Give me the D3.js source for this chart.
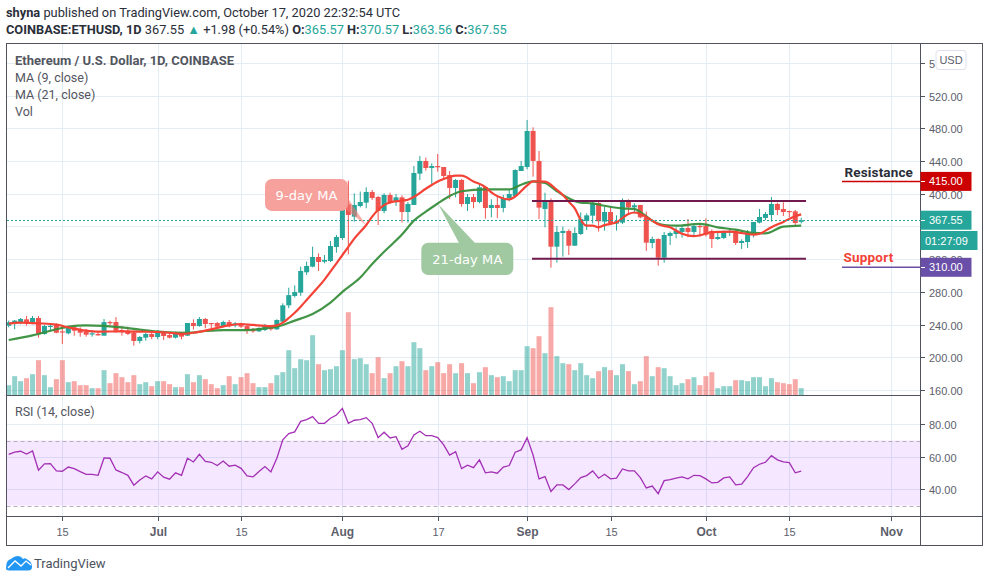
<!DOCTYPE html>
<html><head><meta charset="utf-8">
<script src="https://cdn.jsdelivr.net/npm/d3@7/dist/d3.min.js"></script>
<style>html,body{margin:0;padding:0;background:#fff}svg{display:block}text{font-family:Roboto,sans-serif}</style>
</head><body><svg id="c" width="989" height="582"></svg>
<script>
const opens=[238.6,240.7,242.7,246.4,243.1,248,228.5,237.8,239.5,231.7,229.3,236.6,234.6,231.7,228.5,228.5,226.4,243.1,243.1,233.3,232.5,230,219.9,224,228.5,224.8,230.9,227.2,224,229.3,226.4,241.9,238.2,246.8,241.9,241.9,238.2,243.1,239,240.7,238.2,234,231.7,233.3,238.6,234.2,243.5,263.5,274.9,279,303.9,310.8,322.6,316.9,317.7,334.8,345.8,387,371.9,384.9,389,402.1,395.9,378.8,398.4,389.8,395.5,377.6,386.2,424.5,440,431.4,433.8,432.6,422.8,407,416.7,387.4,395.9,389.8,408.2,382.5,386.2,382.5,394.7,397.2,427.7,432.6,476.6,440,381.3,390.2,335.2,351.9,354.4,336.4,350.7,366.6,373.1,388.6,365.8,377.6,363.3,364.6,389.8,383.3,386.2,371.1,339.7,344.6,321.8,348.3,350.7,353.2,358,353.2,360.5,360.5,354.4,344.6,345.8,352.3,354.4,339.7,340.9,351.9,364.6,370.3,373.9,387.4,381.3,378.8,378.4,365.57];
const highs=[244.8,245.6,248,250.5,250.5,250.5,239.5,239.5,241.5,236.6,236.6,239.5,236.6,234.6,231.7,231.7,246.8,244.8,249.2,238.2,237.4,232.5,226,230,230,233.3,232.5,229.3,231.3,230,241.9,246.4,249.2,248,242,243.1,244.8,245.6,243,242.3,240.3,235.8,236.6,240.7,239.5,246.4,266,285,288,310.8,317,335.2,327.1,325,342.2,349.5,394.3,415.9,400.4,402.5,407.8,404.5,397.2,400.4,401.2,399.6,398,389.8,433.8,446.1,444,437.1,448.5,432.6,427.7,418,418,399.6,399.6,411.8,409.4,393.1,398.4,398.4,404.5,429.8,440,490,481.1,452.2,401.2,394.3,360.5,359.7,356.4,358.9,377.2,376,390.2,391.5,384.1,384.1,373.5,394.3,393.1,388.2,386.2,378,347.5,345.4,353.2,353.6,358.9,361.7,369,361.7,362.5,369.9,356.4,352.7,354.8,357.6,355.6,344.2,355.6,365.4,381.3,377.6,395.9,389,389.4,379.2,380,370.57];
const lows=[236.6,234.2,240.3,238.7,240.3,224,227.6,231.7,229.3,216.2,228,226.4,225.2,225.2,225.2,226.4,226.4,239,230,226.4,227.2,214.2,217,220.3,222,222,221,223,223,222,226,234,237.4,235.4,234,235,236.6,236.6,236.6,235.8,228.5,230,231,232,232.5,233.3,242.3,260,273,275,300.6,310,305.5,314.9,316.5,327.9,343.4,325.9,365.8,383.3,382.1,392.3,361.7,376,387.4,385,364.6,364.6,386.2,416.7,428.1,411.8,426.9,418.8,393.5,395.5,384.1,378.8,382.1,388.2,369.5,371.1,370.3,377.2,390.6,397.2,427.7,429.8,420.8,369,358.9,309.6,315.7,323,325,336,349.5,355.6,363.7,353.6,354.8,362.5,354.8,362.9,375.2,376,369.9,330,333.2,312,315.7,337.3,345.4,346.2,346.6,349.5,347.5,347.5,333.6,343.4,344.6,348.3,337.3,332.4,333.6,346.6,363.7,367.8,365.8,373.9,372.7,371.1,360.9,363.56];
const closes=[242.7,244.8,246.8,242.3,248,228.5,238.2,238.5,230,231,235.8,232.5,230,227.6,229.3,226.8,243,241.9,232.5,231.7,228.5,219.9,224.8,228.5,224.8,231.7,226,224,230,225.2,241.9,238.2,246.8,240.7,241,237.4,243.1,238.6,241.5,237.4,232.9,231.7,235.8,239.5,234.2,245.6,263.5,276,279.8,305.5,311.6,322.6,316.5,318.9,336,347,387,374,386.2,389.8,402.1,394.7,378.8,398.4,389.8,395.5,377.6,387.4,425.3,440,431.4,433.8,432.2,421.6,407,416.7,387.4,395.9,389.8,407.8,382.5,386.2,382.5,394.7,399.6,428.9,433.8,476.6,440,382.9,390.2,335.2,353.2,354.4,336.4,351.9,369,373.5,388.6,366.2,377.6,363.7,366.2,389.8,383.3,385.8,371.1,340.1,344.6,321.8,349.5,351.9,354.8,358,353.2,360.5,359.3,349.9,344.6,347,353.2,354.4,339.7,342.2,352.3,365.4,371.5,375.2,387.4,380,377.6,378,364.2,367.55];
const volumes=[310,580,430,520,640,1060,610,250,490,1060,400,430,310,310,220,220,760,370,670,550,400,610,340,400,280,430,430,340,250,250,640,400,610,490,340,220,310,580,340,550,670,370,250,250,370,610,700,1360,820,1090,1060,1810,940,760,790,880,1360,2500,1090,1120,940,670,1150,520,670,880,1030,880,1600,1420,760,880,1000,670,940,670,970,670,370,700,850,610,550,580,430,760,760,1480,1420,1780,1270,2650,1180,970,940,760,970,610,520,730,850,760,610,940,730,340,430,1180,580,850,820,580,310,370,490,550,310,580,700,220,280,280,460,460,430,550,550,280,520,400,370,340,490,220];
const rsiValues=[61.5,62.8,63.4,61.7,63.6,51.7,55.6,55.8,51.3,51.1,53.7,52.7,50.9,49.2,49.2,48.6,59.3,59.1,51.9,50.3,48.6,42.5,45.7,48.2,46.4,50.7,47.4,46.2,50.1,48.6,59.1,56.8,61.5,57.2,56.6,54.6,57.4,54.2,54.8,52.9,48.2,47.6,50.9,54,50.7,59.1,70.4,74.3,75.3,81.8,82.9,84.7,80.6,80.6,83.7,85.7,89.8,80.6,82.5,82.9,84.1,80.6,71.8,75.1,71.6,72.4,64.6,66.7,73.4,75.7,73,73,71.8,67.3,61.1,63.2,52.7,54.8,53.3,58.1,50.1,50.7,49.9,53.7,54.6,62.8,64.2,71.8,61.1,46.4,47.8,38.6,42.7,42.7,39.8,43.3,47.2,48.4,51.3,46.8,49.2,46.4,46.8,52.5,51.3,51.3,47.2,40.8,42,37.3,45.3,45.9,46.8,47.6,46.4,48.6,48.4,46.4,43.9,44.3,47,47.6,42.7,43.1,47.8,53.3,55.4,56.6,60.7,58.1,56.8,56.4,50.1,51.1];
const ma9Days=[0,2,5,8,10,13,15,19,22,25,28,29,31,34,37,39,41,44,45,46,47,48,49,50,51,53,55,57,58,60,61,63,64,66,67,68,70,72,73,75,76,78,80,81,82,84,85,87,88,90,92,93,94,95,96,97,98,99,100,102,104,105,106,108,109,111,113,115,117,118,121,122,125,126,128,130,132,133];
const ma9Values=[241.1,242.3,241.5,239.9,236.6,232.5,231.3,231.7,231.3,230.9,229.3,228.5,230,234.2,239,240.7,239.5,238.2,239,242.3,248,254.5,261.9,270,278.2,295,314.9,335,345,361.7,372,386,389.4,391.5,392.6,396,406,415,418,422,422,415,408,401.5,397,393,396.5,410,415,414.7,404.5,398.4,390,382,367.8,360.9,360.9,358.9,361.5,365,375.2,377,375.2,367,362.5,358.9,351,348,351,353,353.6,353,350,351,359,365.5,372.5,374.7];
const ma21Days=[0,4,8,10,13,19,22,26,30,33,36,40,43,45,48,51,54,56,59,61,63,66,68,70,72,74,76,80,84,86,87,88,90,92,93,95,96,98,100,103,105,106,108,110,112,116,119,122,125,127,130,133];
const ma21Values=[221.1,226.8,234.2,237.4,239,236.6,233.8,230.9,230,232.1,233.3,233.3,235.4,237.4,244.8,252.9,266.8,280,297.5,314,329,350,367,378,388,397.2,403,405.3,405.3,411,413.5,415.1,413,403,398.4,391,389,388.2,385.2,382,381.3,377.5,367,361.7,360.9,363,358.9,356,352,351.5,359.7,360.9];
const priceTicks=[560,520,480,440,400,360,320,280,240,200,160];
const priceTickLabels=["5","520.00","480.00","440.00","400.00","","320.00","280.00","240.00","200.00","160.00"];
const rsiTicks=[80,60,40];
const rsiTickLabels=["80.00","60.00","40.00"];
const timeTicks=[["2020-06-15","15",0],["2020-07-01","Jul",1],["2020-07-15","15",0],["2020-08-01","Aug",1],["2020-08-17","17",0],["2020-09-01","Sep",1],["2020-09-15","15",0],["2020-10-01","Oct",1],["2020-10-15","15",0],["2020-11-01","Nov",1]];
const channelLevels=[391,320.5];
const resistance=415, support=310, lastPrice=367.55;

const svg=d3.select("#c");
const L=6.5,R=982.5,T=43.5,AX=920.5,P1=395.5,P2=516.5,B=545.5;
const firstDay=new Date(Date.UTC(2020,5,6));
const x=d3.scaleUtc().domain([firstDay,new Date(Date.UTC(2020,10,1))]).range([8.7,890.6]);
const xi=i=>x(d3.utcDay.offset(firstDay,i));
const y=d3.scaleLinear().domain([160,520]).range([390,95.5]);
const yv=d3.scaleLinear().domain([0,2650]).range([P1,P1-88.3]);
const yr=d3.scaleLinear().domain([30,80]).range([505.5,424.3]);
const GRID="#e3edf3",UP="#26a69a",DN="#ef5350",TXT="#5d606b";

const g=svg.append("g").attr("shape-rendering","crispEdges").attr("stroke",GRID).attr("stroke-width",1);
timeTicks.forEach(t=>{const px=Math.round(x(new Date(t[0]+"T00:00Z")))+.5;g.append("line").attr("x1",px).attr("x2",px).attr("y1",T).attr("y2",P2);});
priceTicks.forEach(p=>g.append("line").attr("x1",L).attr("x2",AX).attr("y1",Math.round(y(p))+.5).attr("y2",Math.round(y(p))+.5));
rsiTicks.forEach(p=>g.append("line").attr("x1",L).attr("x2",AX).attr("y1",Math.round(yr(p))+.5).attr("y2",Math.round(yr(p))+.5));

svg.append("g").selectAll("rect").data(volumes).join("rect")
 .attr("x",(d,i)=>xi(i)-2.5).attr("width",5).attr("y",d=>yv(d)).attr("height",d=>P1-yv(d))
 .attr("fill",(d,i)=>closes[i]>=opens[i]?UP:DN).attr("opacity",.5);

const lineOf=(days,vals)=>d3.line().x((d,i)=>xi(days[i])).y(d=>y(d)).curve(d3.curveMonotoneX)(vals);
const cg=svg.append("g");
opens.forEach((o,i)=>{const c=closes[i],col=c>=o?UP:DN,px=xi(i);
 cg.append("line").attr("x1",px).attr("x2",px).attr("y1",y(highs[i])).attr("y2",y(lows[i])).attr("stroke",col).attr("stroke-width",1);
 const a=y(Math.max(o,c)),h=Math.max(1.2,Math.abs(y(o)-y(c)));
 cg.append("rect").attr("x",px-2.5).attr("width",5).attr("y",a).attr("height",h).attr("fill",col);
});
svg.append("path").attr("d",lineOf(ma21Days,ma21Values)).attr("fill","none").attr("stroke","#388e3c").attr("stroke-width",2.2).attr("opacity",.95);
svg.append("path").attr("d",lineOf(ma9Days,ma9Values)).attr("fill","none").attr("stroke","#f44336").attr("stroke-width",2.2);

channelLevels.forEach(p=>svg.append("line").attr("x1",532).attr("x2",806).attr("y1",y(p)).attr("y2",y(p)).attr("stroke","#701a4e").attr("stroke-width",2));

svg.append("line").attr("x1",L).attr("x2",AX).attr("y1",Math.round(y(lastPrice))+.5).attr("y2",Math.round(y(lastPrice))+.5).attr("stroke",UP).attr("stroke-width",1).attr("stroke-dasharray","2 2").attr("shape-rendering","crispEdges");

svg.append("line").attr("x1",842).attr("x2",AX).attr("y1",y(resistance)).attr("y2",y(resistance)).attr("stroke","#cc0000").attr("stroke-width",1.5);
svg.append("line").attr("x1",842).attr("x2",AX).attr("y1",y(support)).attr("y2",y(support)).attr("stroke","#6a4fa8").attr("stroke-width",1.5);
svg.append("text").attr("x",844.5).attr("y",176.5).text("Resistance").attr("fill","#2a2e39").attr("font-size",13.5).attr("font-weight",700).attr("letter-spacing",.15);
svg.append("text").attr("x",843.5).attr("y",261.5).text("Support").attr("fill","#f44336").attr("font-size",13.5).attr("font-weight",700).attr("letter-spacing",.2);

svg.append("path").attr("d","M340,205 L347,197 L366,225 Z").attr("fill","#f4776f").attr("opacity",.6);
svg.append("rect").attr("x",265).attr("y",179).attr("width",83).attr("height",32).attr("rx",7).attr("fill","#f6a19c");
svg.append("text").attr("x",306.5).attr("y",199.5).attr("text-anchor","middle").text("9-day MA").attr("fill","#fff").attr("font-size",13).style("font-family","'DejaVu Sans'").attr("letter-spacing",.1);
svg.append("path").attr("d","M438.3,204.3 L459,243 L475,243 Z").attr("fill","#a0c9a1");
svg.append("rect").attr("x",421.3).attr("y",242.7).attr("width",92).attr("height",32.3).attr("rx",7).attr("fill","#a0c9a1");
svg.append("text").attr("x",467.3).attr("y",263.5).attr("text-anchor","middle").text("21-day MA").attr("fill","#fff").attr("font-size",13).style("font-family","'DejaVu Sans'").attr("letter-spacing",.1);

svg.append("rect").attr("x",L).attr("width",AX-L).attr("y",yr(70)).attr("height",yr(30)-yr(70)).attr("fill","#9915ff").attr("opacity",.1);
[70,30].forEach(r=>svg.append("line").attr("x1",L).attr("x2",AX).attr("y1",Math.round(yr(r))+.5).attr("y2",Math.round(yr(r))+.5).attr("stroke","#b7adbd").attr("stroke-dasharray","4 3"));
svg.append("path").attr("d",d3.line().x((d,i)=>xi(i)).y(d=>yr(d))(rsiValues)).attr("fill","none").attr("stroke","#a32fb5").attr("stroke-width",1.3);

const fr=svg.append("g").attr("stroke","#50535e").attr("fill","none").attr("shape-rendering","crispEdges");
fr.append("rect").attr("x",L).attr("y",T).attr("width",R-L).attr("height",B-T);
[[L,AX,P1,P1],[L,R,P2,P2],[AX,AX,T,B]].forEach(a=>fr.append("line").attr("x1",a[0]).attr("x2",a[1]).attr("y1",a[2]).attr("y2",a[3]));

const axisFont="'Liberation Sans'";
function axisRow(v,sc,label){
 const py=Math.round(sc(v))+.5;
 fr.append("line").attr("x1",AX).attr("x2",AX+4).attr("y1",py).attr("y2",py);
 if(label) svg.append("text").attr("x",929).attr("y",py+4).text(label).attr("fill",TXT).attr("font-size",11).style("font-family",axisFont);
}
const f2=d3.format(".2f");
priceTicks.forEach((p,i)=>axisRow(p,y,priceTickLabels[i]));
rsiTicks.forEach((p,i)=>axisRow(p,yr,rsiTickLabels[i]));
timeTicks.forEach(t=>{const px=Math.round(x(new Date(t[0]+"T00:00Z")))+.5;
 fr.append("line").attr("x1",px).attr("x2",px).attr("y1",P2).attr("y2",P2+4);
 svg.append("text").attr("x",px).attr("y",536).attr("text-anchor","middle").text(t[1]).attr("fill",TXT).attr("font-size",t[2]?12:11).attr("font-weight",t[2]?700:400).style("font-family",axisFont);
});

function tag(v,py,col){
 svg.append("rect").attr("x",AX).attr("y",py-9.5).attr("width",51).attr("height",19).attr("fill",col);
 svg.append("line").attr("x1",AX).attr("x2",AX+4).attr("y1",Math.round(py)+.5).attr("y2",Math.round(py)+.5).attr("stroke","#fff").attr("shape-rendering","crispEdges");
 svg.append("text").attr("x",929).attr("y",py+4).text(f2(v)).attr("fill","#fff").attr("font-size",11).style("font-family",axisFont);
}
tag(resistance,y(resistance),"#cc0000");
tag(support,y(support),"#6a4fa8");
tag(lastPrice,y(lastPrice),UP);
svg.append("rect").attr("x",AX).attr("y",231).attr("width",57).attr("height",19).attr("fill",UP);
svg.append("text").attr("x",925).attr("y",244.5).text("01:27:09").attr("fill","#fff").attr("font-size",11).style("font-family",axisFont);

svg.append("rect").attr("x",936).attr("y",50.5).attr("width",30).attr("height",19).attr("rx",3).attr("fill","#fff").attr("stroke","#dfe0ee");
svg.append("text").attr("x",951).attr("y",63.5).attr("text-anchor","middle").text("USD").attr("fill",TXT).attr("font-size",11).style("font-family",axisFont);

const lg=[["Ethereum / U.S. Dollar, 1D, COINBASE",65,700,13],["MA (9, close)",82,400,12.5],["MA (21, close)",99,400,12.5],["Vol",116,400,12.5]];
lg.forEach(l=>svg.append("text").attr("x",15).attr("y",l[1]).text(l[0]).attr("fill","#535660").attr("font-weight",l[2]).attr("font-size",l[3]));
svg.append("text").attr("x",15).attr("y",416).text("RSI (14, close)").attr("fill","#535660").attr("font-size",12.5);

const h1=svg.append("text").attr("x",6).attr("y",17).attr("fill","#2a2e39").attr("font-size",12.8);
h1.append("tspan").attr("font-weight",700).text("shyna");
h1.append("tspan").text(" published on TradingView.com, October 17, 2020 22:32:54 UTC");
const h2=svg.append("text").attr("x",6).attr("y",34).attr("fill","#2a2e39").attr("font-size",12.8);
h2.append("tspan").attr("font-weight",700).text("COINBASE:ETHUSD, 1D");
h2.append("tspan").text("  367.55 ");
h2.append("tspan").attr("fill",UP).text("▲");
h2.append("tspan").text(" +1.98 (+0.54%) ");
[["O:","365.57"],["H:","370.57"],["L:","363.56"],["C:","367.55"]].forEach(p=>{
 h2.append("tspan").attr("font-weight",700).text(p[0]);
 h2.append("tspan").attr("fill",UP).text(p[1]+" ");
});

const lgo=svg.append("g");
lgo.append("path").attr("d","M6,568 Q6,560 11,559 Q14,556 18,556 Q21,556 23,559 Q25,557 28,560 Q32,562 32,567 Q32,570.5 28,570.5 L9,570.5 Q6,570.5 6,568 Z").attr("fill","#2196f3");
lgo.append("path").attr("d","M8,568 L15,561 L21,566 L26,561 L31,565").attr("fill","none").attr("stroke","#fff").attr("stroke-width",1.3);
svg.append("text").attr("x",34).attr("y",568).text("TradingView").attr("fill","#4c525e").attr("font-size",13);
</script></body></html>
